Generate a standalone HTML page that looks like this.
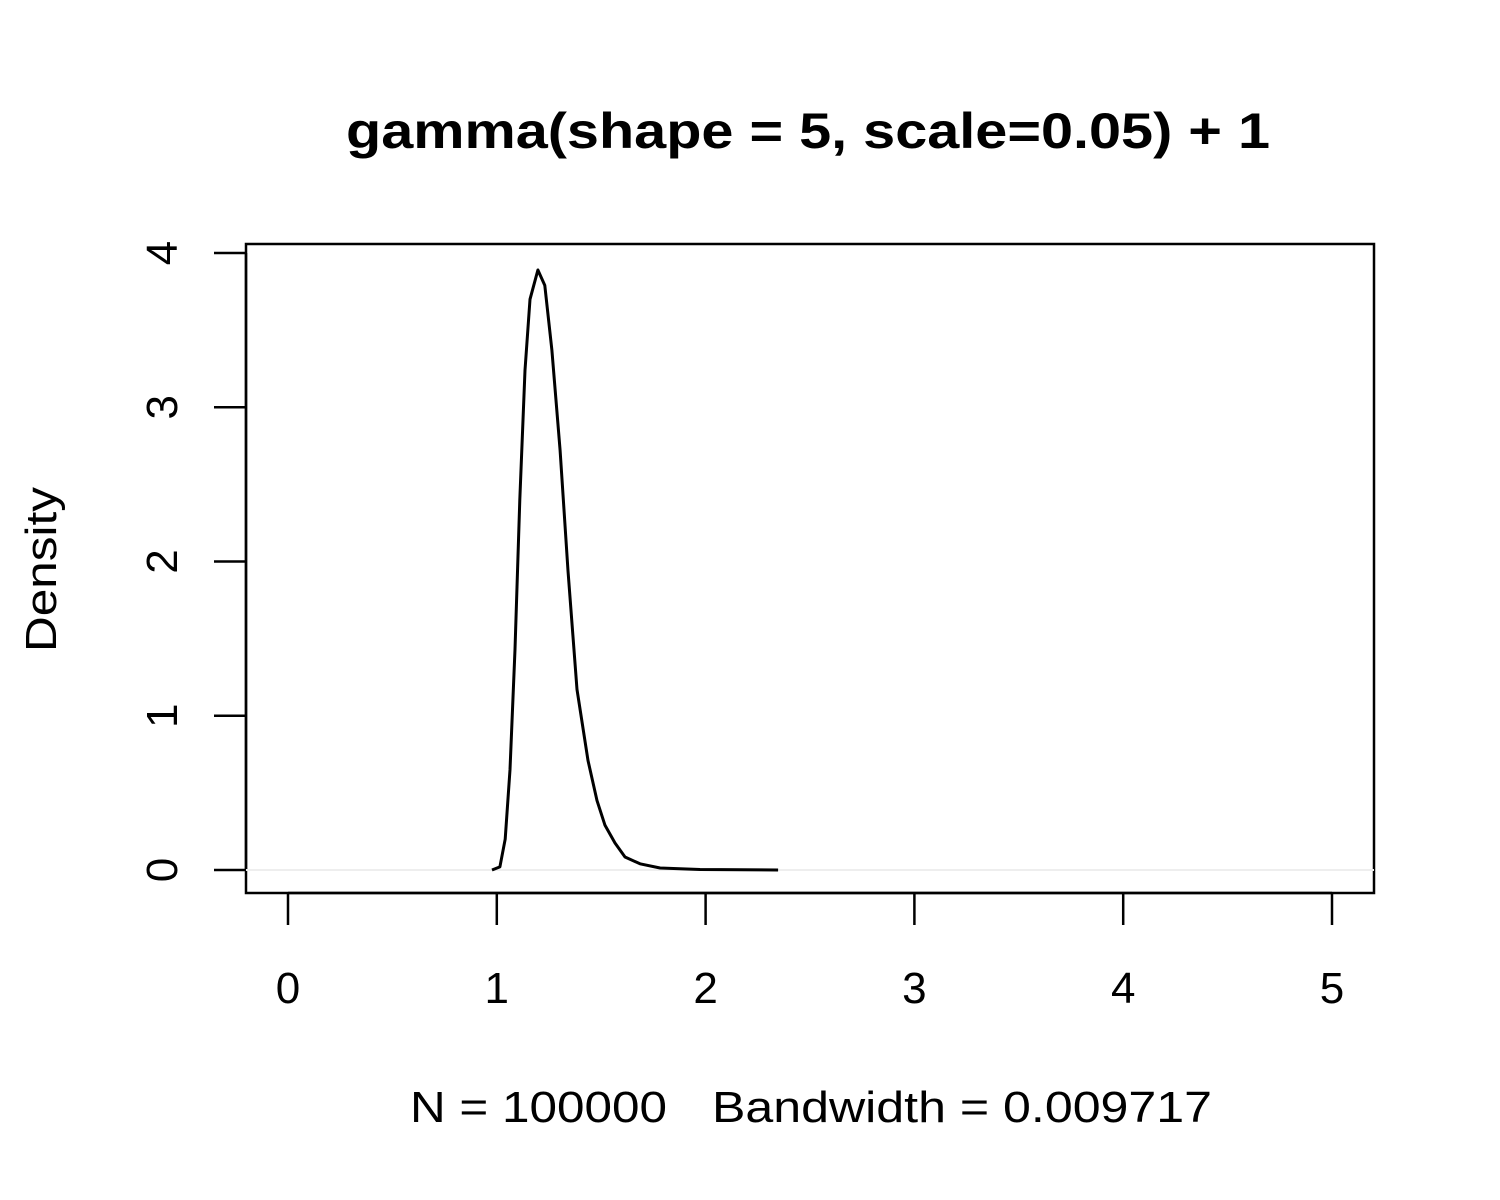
<!DOCTYPE html>
<html><head><meta charset="utf-8"><style>
body{margin:0;background:#fff}
svg{display:block;font-family:"Liberation Sans",Arial,sans-serif}
</style></head><body>
<svg id="chart" width="1500" height="1200" viewBox="0 0 1500 1200">
<text x="346" y="148" font-size="50" font-weight="bold" textLength="924" lengthAdjust="spacingAndGlyphs">gamma(shape = 5, scale=0.05) + 1</text>
<rect x="246" y="244" width="1128" height="649" fill="none" stroke="#000" stroke-width="2.5"/>
<text x="410" y="1122" font-size="44" textLength="257" lengthAdjust="spacingAndGlyphs">N = 100000</text>
<text x="712" y="1122" font-size="44" textLength="500" lengthAdjust="spacingAndGlyphs">Bandwidth = 0.009717</text>
<text transform="translate(56,652) rotate(-90)" font-size="44" textLength="165" lengthAdjust="spacingAndGlyphs">Density</text>
<g id="xaxis"></g>
<g id="yaxis"></g>
<line x1="246" y1="870" x2="1374" y2="870" stroke="#eee" stroke-width="2"/>
<path id="curve" fill="none" stroke="#000" stroke-width="3" stroke-linejoin="round"/>
</svg>
<script>
const xTicks=[0,1,2,3,4,5];
const yTicks=[0,1,2,3,4];
const xVals=[0.977,1.015,1.04,1.063,1.087,1.11,1.135,1.159,1.197,1.23,1.264,1.303,1.341,1.384,1.437,1.48,1.518,1.566,1.614,1.686,1.782,1.973,2.347];
const yVals=[0,0.02,0.2,0.65,1.43,2.4,3.24,3.7,3.89,3.79,3.37,2.72,1.94,1.17,0.71,0.45,0.29,0.175,0.084,0.04,0.013,0.003,0];
const sx=v=>288+v*208.8;
const sy=v=>870-v*154.25;
const NS='http://www.w3.org/2000/svg';
const xa=document.getElementById('xaxis'), ya=document.getElementById('yaxis');
function mk(tag,attrs,parent){const e=document.createElementNS(NS,tag);for(const k in attrs)e.setAttribute(k,attrs[k]);parent.appendChild(e);return e;}
mk('line',{x1:sx(0),y1:893,x2:sx(5),y2:893,stroke:'#000','stroke-width':2.5},xa);
xTicks.forEach(t=>{
  const l=mk('line',{x1:sx(t),y1:893,x2:sx(t),y2:925,stroke:'#000','stroke-width':2.5},xa);
  
  
  const tx=mk('text',{x:sx(t),y:1003,'text-anchor':'middle','font-size':44},xa);
  tx.textContent=t;
  
  
});
mk('line',{x1:246,y1:sy(0),x2:246,y2:sy(4),stroke:'#000','stroke-width':2.5},ya);
yTicks.forEach(t=>{
  const l=mk('line',{x1:214,y1:sy(t),x2:246,y2:sy(t),stroke:'#000','stroke-width':2.5},ya);
  
  
  const tx=mk('text',{transform:`translate(177,${sy(t)}) rotate(-90)`,'text-anchor':'middle','font-size':44},ya);
  tx.textContent=t;
  
  
});
let d='';
xVals.forEach((x,i)=>{d+=(i?'L':'M')+sx(x).toFixed(1)+','+sy(yVals[i]).toFixed(1);});
document.getElementById('curve').setAttribute('d',d);
</script>
</body></html>
